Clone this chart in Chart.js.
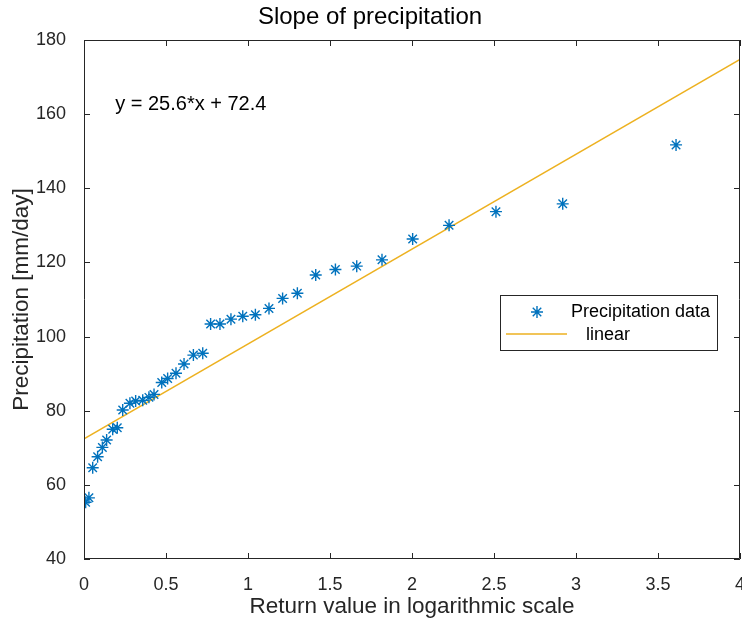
<!DOCTYPE html>
<html>
<head>
<meta charset="utf-8">
<script src="https://cdn.jsdelivr.net/npm/chart.js@4"></script>
<style>
  html, body { margin: 0; padding: 0; background: #fff; }
  #wrap { width: 742px; height: 623px; }
</style>
</head>
<body>
<div id="wrap"><canvas id="chart" width="742" height="623"></canvas></div>
<script>
// return value (reduced variate) and sorted precipitation
const returnValues = [0.01, 0.03, 0.053, 0.083, 0.112, 0.138, 0.175, 0.203, 0.236, 0.280,
  0.315, 0.358, 0.396, 0.427, 0.474, 0.510, 0.561, 0.610, 0.667, 0.724,
  0.772, 0.829, 0.896, 0.968, 1.045, 1.128, 1.211, 1.301, 1.413, 1.533,
  1.663, 1.817, 2.004, 2.226, 2.512, 2.919, 3.610];
const precipitation = [55.3, 56.5, 64.6, 67.6, 70.1, 72.1, 75.0, 75.4, 80.2, 82.0,
  82.6, 82.8, 83.6, 84.4, 87.6, 88.7, 90.1, 92.6, 95.0, 95.5,
  103.4, 103.4, 104.7, 105.5, 105.9, 107.6, 110.3, 111.7, 116.6, 118.1,
  119.0, 120.7, 126.3, 130.0, 133.7, 135.8, 151.7];

// fitted line end points
const fitX = [0, 4];
const fitY = [72.4, 174.8];
const fitLabel = 'y = 25.6*x + 72.4';

const xTicks = [0, 0.5, 1, 1.5, 2, 2.5, 3, 3.5, 4];
const yTicks = [40, 60, 80, 100, 120, 140, 160, 180];

const FONT = '"Liberation Sans", Arial, Helvetica, sans-serif';
const AXIS = '#262626';
const BLUE = '#0072BD';
const GOLD = '#EDB120';

// box, inward ticks, equation text and legend (MATLAB look)
const matlabAxes = {
  id: 'matlabAxes',
  afterDraw(chart) {
    const { ctx, chartArea: a, scales } = chart;
    const x = scales.x, y = scales.y;
    ctx.save();
    ctx.strokeStyle = AXIS;
    ctx.lineWidth = 1;
    ctx.beginPath();
    ctx.rect(a.left + 0.5, a.top + 0.5, a.right - a.left - 1, a.bottom - a.top - 1);
    ctx.stroke();
    const len = 6;
    ctx.beginPath();
    xTicks.forEach(v => {
      const px = Math.round(x.getPixelForValue(v)) + 0.5;
      ctx.moveTo(px, a.bottom); ctx.lineTo(px, a.bottom - len);
      ctx.moveTo(px, a.top); ctx.lineTo(px, a.top + len);
    });
    yTicks.forEach(v => {
      const py = Math.round(y.getPixelForValue(v)) + 0.5;
      ctx.moveTo(a.left, py); ctx.lineTo(a.left + len, py);
      ctx.moveTo(a.right, py); ctx.lineTo(a.right - len, py);
    });
    ctx.stroke();

    // equation
    ctx.fillStyle = '#000';
    ctx.font = '20px ' + FONT;
    ctx.textBaseline = 'middle';
    ctx.textAlign = 'left';
    ctx.fillText(fitLabel, x.getPixelForValue(0.19), y.getPixelForValue(162.5));

    // legend
    const lx = a.right - 240, ly = a.top + 255, lw = 217, lh = 55;
    ctx.fillStyle = '#fff';
    ctx.fillRect(lx, ly, lw, lh);
    ctx.strokeStyle = AXIS;
    ctx.strokeRect(lx + 0.5, ly + 0.5, lw, lh);
    // star marker
    const sx = lx + 37, sy = ly + 17, r = 6;
    ctx.strokeStyle = BLUE;
    ctx.lineWidth = 1.4;
    ctx.beginPath();
    ctx.moveTo(sx - r, sy); ctx.lineTo(sx + r, sy);
    ctx.moveTo(sx, sy - r); ctx.lineTo(sx, sy + r);
    const d = r * Math.SQRT1_2;
    ctx.moveTo(sx - d, sy - d); ctx.lineTo(sx + d, sy + d);
    ctx.moveTo(sx - d, sy + d); ctx.lineTo(sx + d, sy - d);
    ctx.stroke();
    // line sample
    ctx.strokeStyle = GOLD;
    ctx.lineWidth = 1.5;
    ctx.beginPath();
    ctx.moveTo(lx + 6, ly + 39); ctx.lineTo(lx + 67, ly + 39);
    ctx.stroke();
    ctx.fillStyle = '#000';
    ctx.font = '18px ' + FONT;
    ctx.fillText('Precipitation data', lx + 71, sy);
    ctx.fillText('linear', lx + 86, ly + 40);
    ctx.restore();
  }
};

new Chart(document.getElementById('chart'), {
  type: 'scatter',
  data: {
    datasets: [
      {
        label: 'Precipitation data',
        data: returnValues.map((v, i) => ({ x: v, y: precipitation[i] })),
        pointStyle: 'star',
        pointRadius: 6,
        borderColor: BLUE,
        backgroundColor: BLUE,
        borderWidth: 1.4,
        showLine: false,
        order: 1
      },
      {
        label: 'linear',
        data: fitX.map((v, i) => ({ x: v, y: fitY[i] })),
        showLine: true,
        borderColor: GOLD,
        borderWidth: 1.5,
        pointRadius: 0,
        order: 2
      }
    ]
  },
  options: {
    responsive: false,
    animation: false,
    layout: { autoPadding: false, padding: { left: 0, right: 2, top: 0, bottom: 0 } },
    plugins: {
      legend: { display: false },
      tooltip: { enabled: false },
      title: {
        display: true,
        text: 'Slope of precipitation',
        color: '#000',
        font: { family: FONT, size: 24, weight: 'normal' },
        padding: { top: 3, bottom: 8.2 }
      }
    },
    scales: {
      x: {
        type: 'linear',
        min: 0, max: 4,
        afterBuildTicks: s => { s.ticks = xTicks.map(v => ({ value: v })); },
        afterFit: s => { s.height = 64; s.paddingLeft = 0; s.paddingRight = 0; },
        grid: { display: false },
        border: { display: false },
        ticks: {
          color: AXIS, font: { family: FONT, size: 18 }, padding: 7, maxRotation: 0,
          callback: v => String(v)
        },
        title: {
          display: true,
          text: 'Return value in logarithmic scale',
          color: AXIS,
          font: { family: FONT, size: 22.5 },
          padding: { top: 0, bottom: 2.5 }
        }
      },
      y: {
        type: 'linear',
        min: 40, max: 180,
        afterBuildTicks: s => { s.ticks = yTicks.map(v => ({ value: v })); },
        afterFit: s => { s.width = 84; s.paddingTop = 0; s.paddingBottom = 0; },
        grid: { display: false },
        border: { display: false },
        ticks: { color: AXIS, font: { family: FONT, size: 18 }, padding: 10, callback: v => String(v) },
        title: {
          display: true,
          text: 'Precipitation [mm/day]',
          color: AXIS,
          font: { family: FONT, size: 22.5 },
          padding: { top: 8.5, bottom: 0 }
        }
      }
    }
  },
  plugins: [matlabAxes]
});
</script>
</body>
</html>
